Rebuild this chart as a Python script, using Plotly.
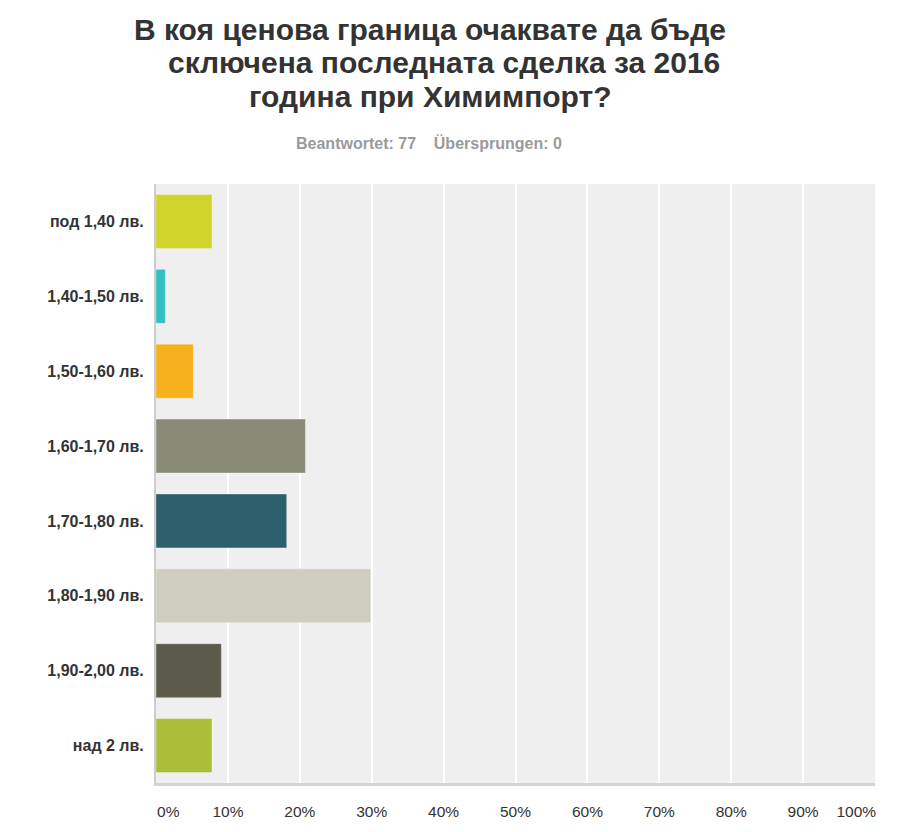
import plotly.graph_objects as go

categories = ["под 1,40 лв.", "1,40-1,50 лв.", "1,50-1,60 лв.", "1,60-1,70 лв.",
              "1,70-1,80 лв.", "1,80-1,90 лв.", "1,90-2,00 лв.", "над 2 лв."]
percent = [7.79, 1.30, 5.19, 20.78, 18.18, 29.87, 9.09, 7.79]
bar_colors = ["#d1d42a", "#33bec0", "#f7b11e", "#898a78",
              "#2e5f6c", "#cfcdbe", "#5c5b4b", "#abbe3a"]
tick_positions = [1.7, 10, 20, 30, 40, 50, 60, 70, 80, 90, 97.4]
tick_labels = ["0%", "10%", "20%", "30%", "40%", "50%", "60%", "70%", "80%", "90%", "100%"]

title_lines = ["В коя ценова граница очаквате да бъде",
               "сключена последната сделка за 2016",
               "година при Химимпорт?"]
subtitle_text = "Beantwortet: 77&nbsp;&nbsp;&nbsp;&nbsp;Übersprungen: 0"

FONT = "Liberation Sans, Arial, sans-serif"

W, H = 894, 824
ML, MR, MT, MB = 148, 27, 176, 49
PW, PH = W - ML - MR, H - MT - MB


def px_x(x):
    return (x - ML) / PW


def px_y(y):
    return 1 - (y - MT) / PH


fig = go.Figure()
fig.add_trace(go.Bar(
    x=percent, y=categories, orientation="h",
    marker=dict(color=bar_colors, line=dict(color="rgba(255,255,255,0.35)", width=1)),
    width=0.72, showlegend=False,
    hovertemplate="%{y}: %{x:.2f}%<extra></extra>",
))
# helper trace to anchor the label axis
fig.add_trace(go.Scatter(x=[0, 100], y=[categories[0], categories[0]], xaxis="x2",
                         mode="none", showlegend=False, hoverinfo="skip"))

title_pos = [(422, 21.5), (436, 55), (422, 88.5)]
annotations = []
for line, (tx, ty) in zip(title_lines, title_pos):
    annotations.append(dict(text=line, xref="paper", yref="paper", x=px_x(tx), y=px_y(ty),
                            xanchor="center", yanchor="middle", showarrow=False,
                            font=dict(size=30, family=FONT, color="#333333", weight="bold")))
annotations.append(dict(text=subtitle_text, xref="paper", yref="paper",
                        x=px_x(421), y=px_y(135), xanchor="center", yanchor="middle",
                        showarrow=False,
                        font=dict(size=16, color="#9a9a9a", family=FONT, weight="bold")))

fig.update_layout(
    width=W, height=H,
    margin=dict(l=ML, r=MR, t=MT, b=MB),
    paper_bgcolor="white", plot_bgcolor="#efefef",
    font=dict(family=FONT, color="#333333"),
    xaxis=dict(range=[0, 100], dtick=10, showgrid=True, gridcolor="white", gridwidth=2,
               showticklabels=False, zeroline=False, showline=True,
               linecolor="#d4d4d4", linewidth=3, ticks=""),
    xaxis2=dict(range=[0, 100], overlaying="x", side="bottom", anchor="y",
                tickmode="array", tickvals=tick_positions, ticktext=tick_labels,
                showgrid=False, zeroline=False, showline=False, ticks="",
                ticklabelstandoff=17,
                tickfont=dict(size=15.5, color="#333333", family=FONT)),
    yaxis=dict(categoryorder="array", categoryarray=categories, autorange="reversed",
               showgrid=False, zeroline=False, showline=True, linecolor="#cccccc",
               linewidth=2, ticks="", ticklabelstandoff=7,
               tickfont=dict(size=16, color="#333333", family=FONT, weight="bold")),
    annotations=annotations,
)

fig.write_html("out.html")
